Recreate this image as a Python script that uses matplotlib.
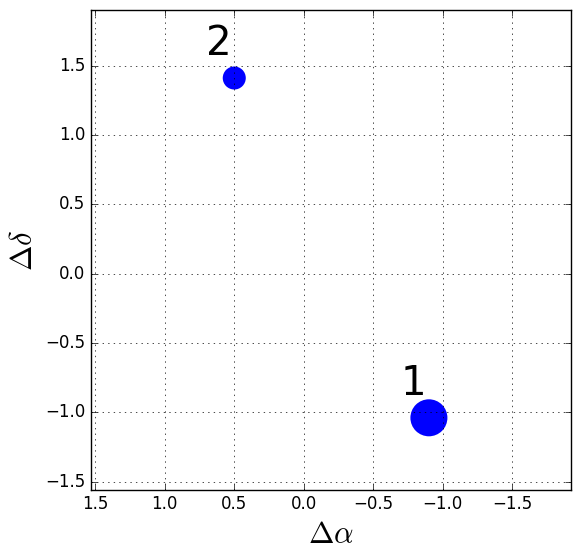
import numpy as np
import matplotlib
matplotlib.use("Agg")
import matplotlib.pyplot as plt

plt.style.use('classic')

# offsets of the components
d_alpha = [-0.9, 0.5]
d_delta = [-1.04, 1.41]
sizes = [710, 275]
labels = ['1', '2']

fig = plt.figure(figsize=(5.8, 5.58), dpi=100)
ax = fig.add_axes([0.157, 0.122, 0.827, 0.860])

ax.scatter(d_alpha, d_delta, s=sizes, c='b', edgecolors='none')
for x, y, lab in zip(d_alpha, d_delta, labels):
    ax.text(x + 0.11, y + 0.10, lab, fontsize=29, ha='center', va='bottom')

ax.set_xlim(1.53, -1.92)
ax.set_ylim(-1.56, 1.90)
ax.set_xticks(np.arange(1.5, -1.6, -0.5))
ax.set_yticks(np.arange(-1.5, 1.6, 0.5))
ax.tick_params(labelsize=12)
ax.grid(True)

ax.set_xlabel(r'$\Delta\alpha$', fontsize=22)
ax.set_ylabel(r'$\Delta\delta$', fontsize=22)

fig.savefig('out.png', dpi=100, facecolor='white')
